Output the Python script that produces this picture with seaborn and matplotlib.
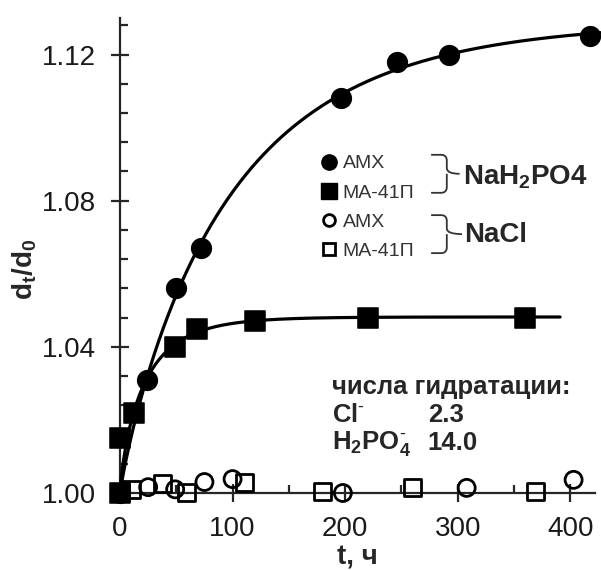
import numpy as np
import pandas as pd
import matplotlib
matplotlib.use("Agg")
import matplotlib.pyplot as plt
import seaborn as sns
from matplotlib.lines import Line2D
from matplotlib.path import Path
from matplotlib.patches import PathPatch
from matplotlib.ticker import MultipleLocator, FormatStrFormatter

# data
t_amx_p = [0, 24, 50, 72, 196, 246, 292, 418]
d_amx_p = [1.000, 1.031, 1.056, 1.067, 1.108, 1.118, 1.120, 1.125]

t_ma_p = [0, 0, 12, 49, 68, 120, 220, 360]
d_ma_p = [1.000, 1.015, 1.022, 1.040, 1.045, 1.047, 1.048, 1.048]

t_amx_cl = [25, 49, 75, 100, 198, 308, 403]
d_amx_cl = [1.0016, 1.0010, 1.0030, 1.0038, 1.0000, 1.0014, 1.0036]

t_ma_cl = [0, 10, 38, 59, 111, 180, 260, 369]
d_ma_cl = [1.000, 1.001, 1.0027, 1.000, 1.003, 1.0003, 1.0016, 1.0003]

legend_labels = ["AMX", "MA-41П", "AMX", "MA-41П"]
hydration_ions = ["Cl$^{\\text{-}}$", "H$_\\mathbf{2}$PO$_\\mathbf{4}^{\\text{-}}$"]
hydration_numbers = ["2.3", "14.0"]


def fit_curve(t, d):
    # stretched exponential d = 1 + a*(1 - exp(-(t/tau)^beta))
    # tau, beta by grid search, a by least squares
    t = np.asarray(t, float)
    y = np.asarray(d, float) - 1.0
    best = None
    for beta in np.linspace(0.5, 1.5, 41):
        for tau in np.linspace(2, 300, 600):
            b = 1 - np.exp(-(t / tau) ** beta)
            a = (b @ y) / (b @ b)
            err = np.sum((a * b - y) ** 2)
            if best is None or err < best[0]:
                best = (err, a, tau, beta)
    return best[1:]


sns.set_style("ticks")
plt.rcParams["font.family"] = ["Liberation Sans", "DejaVu Sans"]
plt.rcParams["mathtext.fontset"] = "custom"
plt.rcParams["mathtext.rm"] = "Liberation Sans"
plt.rcParams["mathtext.bf"] = "Liberation Sans:bold"
plt.rcParams["mathtext.it"] = "Liberation Sans:italic"

fig = plt.figure(figsize=(6.01, 5.70), dpi=100)
ax = fig.add_axes([0.1997, 0.1351, 0.7903, 0.8333])

# smooth trend curves
for t, d, t_end in [(t_amx_p, d_amx_p, 428), (t_ma_p, d_ma_p, 391)]:
    a, tau, beta = fit_curve(t, d)
    tt = np.linspace(0, t_end, 400)
    curve = pd.DataFrame({"t": tt, "d": 1 + a * (1 - np.exp(-(tt / tau) ** beta))})
    sns.lineplot(data=curve, x="t", y="d", color="black", lw=2.3, ax=ax,
                 zorder=3, clip_on=False)

sns.scatterplot(x=t_amx_p, y=d_amx_p, marker="o", s=200, color="black",
                edgecolor="black", ax=ax, zorder=5, clip_on=False)
sns.scatterplot(x=t_ma_p, y=d_ma_p, marker="s", s=200, color="black",
                edgecolor="black", ax=ax, zorder=5, clip_on=False)
sns.scatterplot(x=t_amx_cl, y=d_amx_cl, marker="o", s=150, facecolor="none",
                edgecolor="black", linewidth=2, ax=ax, zorder=4, clip_on=False)
sns.scatterplot(x=t_ma_cl, y=d_ma_cl, marker="s", s=150, facecolor="none",
                edgecolor="black", linewidth=2, ax=ax, zorder=4, clip_on=False)

ax.set_xlim(0, 422)
ax.set_ylim(1.0, 1.13)
ax.xaxis.set_major_locator(MultipleLocator(100))
ax.xaxis.set_minor_locator(MultipleLocator(50))
ax.yaxis.set_major_locator(MultipleLocator(0.04))
ax.yaxis.set_minor_locator(MultipleLocator(0.008))
ax.yaxis.set_major_formatter(FormatStrFormatter("%.2f"))
ax.tick_params(which="major", direction="inout", length=13, width=1.6,
               labelsize=20, labelcolor="#1a1a1a")
ax.tick_params(axis="x", which="major", pad=10)
ax.tick_params(axis="y", which="major", pad=11)
ax.tick_params(which="minor", direction="in", length=6, width=1.6)
sns.despine(ax=ax)
for sp in ["left", "bottom"]:
    ax.spines[sp].set_linewidth(1.6)

ax.set_xlabel("t, ч", fontsize=20, fontweight="bold", va="center")
ax.set_ylabel("d$_\\mathbf{t}$/d$_\\mathbf{0}$", fontsize=20,
              fontweight="bold", va="center")
ax.xaxis.set_label_coords(0.5, -0.135)
ax.yaxis.set_label_coords(-0.2, 0.47)

# legend
handles = [
    Line2D([], [], ls="none", marker="o", ms=11, mfc="black", mec="black"),
    Line2D([], [], ls="none", marker="s", ms=11, mfc="black", mec="black"),
    Line2D([], [], ls="none", marker="o", ms=8.5, mfc="none", mec="black", mew=2),
    Line2D([], [], ls="none", marker="s", ms=8.5, mfc="none", mec="black", mew=2),
]
ax.legend(handles, legend_labels, loc="upper left",
          bbox_to_anchor=(0.42, 0.712), frameon=False, fontsize=14,
          handlelength=1.0, handletextpad=0.2, labelspacing=0.6,
          borderpad=0, borderaxespad=0, labelcolor="#333333")


def brace(y_top, y_bot, x_left, x_mid, x_tip):
    ym = (y_top + y_bot) / 2
    r = 0.012
    verts = [(x_left, y_top), (x_mid - r, y_top),
             (x_mid, y_top), (x_mid, y_top - r),
             (x_mid, ym + r),
             (x_mid, ym), (x_tip, ym),
             (x_mid, ym), (x_mid, ym - r),
             (x_mid, y_bot + r),
             (x_mid, y_bot), (x_mid - r, y_bot),
             (x_left, y_bot)]
    codes = [Path.MOVETO, Path.LINETO, Path.CURVE3, Path.CURVE3, Path.LINETO,
             Path.CURVE3, Path.CURVE3, Path.MOVETO, Path.CURVE3, Path.LINETO,
             Path.CURVE3, Path.CURVE3, Path.LINETO]
    ax.add_patch(PathPatch(Path(verts, codes), transform=ax.transAxes,
                           fill=False, lw=1.3, ec="#333333", clip_on=False))


brace(0.712, 0.632, 0.655, 0.688, 0.715)
brace(0.585, 0.505, 0.655, 0.688, 0.720)

ax.text(0.722, 0.665, "NaH$_\\mathbf{2}$PO4", transform=ax.transAxes,
        fontsize=20, fontweight="bold", va="center", ha="left")
ax.text(0.724, 0.543, "NaCl", transform=ax.transAxes,
        fontsize=20, fontweight="bold", va="center", ha="left")

ax.text(0.446, 0.223, "числа гидратации:", transform=ax.transAxes,
        fontsize=18.5, fontweight="bold", va="center", ha="left")
for i, (ion, num) in enumerate(zip(hydration_ions, hydration_numbers)):
    y = 0.164 - i * 0.059
    ax.text(0.446, y, ion, transform=ax.transAxes, fontsize=18.5,
            fontweight="bold", va="center", ha="left")
    ax.text(0.648, y, num, transform=ax.transAxes, fontsize=18.5,
            fontweight="bold", va="center", ha="left")

fig.savefig("out.png", dpi=100)
